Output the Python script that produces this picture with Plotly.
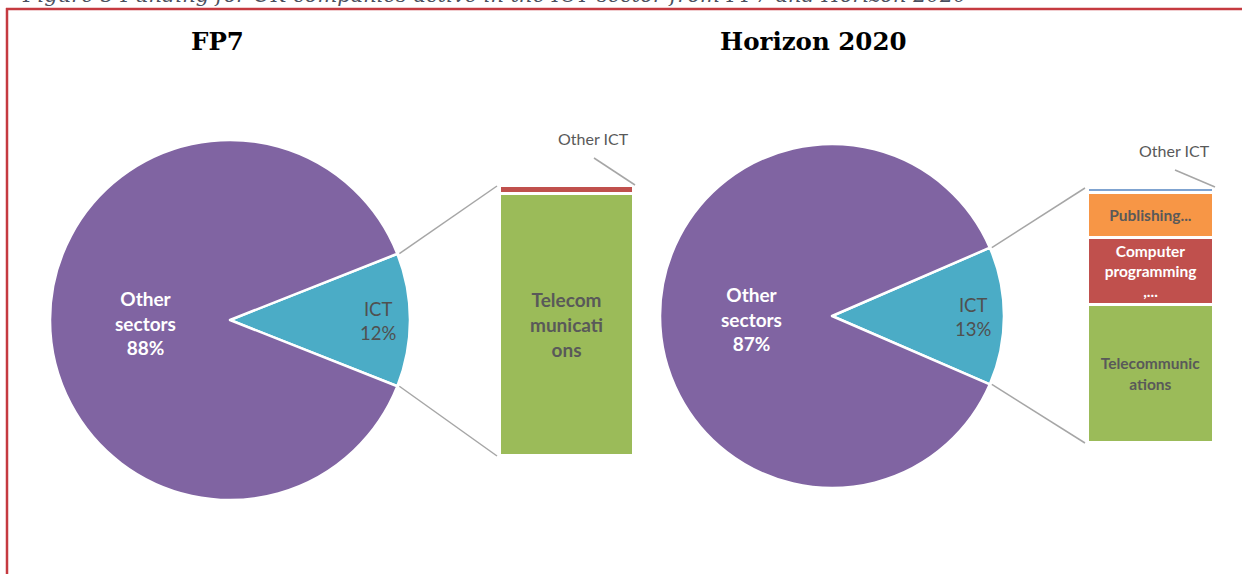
import math
import plotly.graph_objects as go

W, H = 1242, 574

# ---------------- data ----------------
pie_labels = ["ICT", "Other sectors"]
fp7_pie_values = [12, 88]
h2020_pie_values = [13, 87]

fp7_ict_labels = ["Telecommunications", "Other ICT"]
fp7_ict_values = [97, 3]
fp7_ict_text = ["Telecom<br>municati<br>ons", ""]

h2020_ict_labels = ["Telecommunications", "Computer programming,...", "Publishing...", "Other ICT"]
h2020_ict_values = [54, 26.5, 17.5, 2]
h2020_ict_text = ["Telecommunic<br>ations", "Computer<br>programming<br>,...", "Publishing...", ""]

titles = ["FP7", "Horizon 2020"]
caption = "Figure 5 Funding for UK companies active in the ICT sector from FP7 and Horizon 2020"

# ---------------- style ----------------
PURPLE = "#8064A2"
TEAL = "#4BACC6"
GREEN = "#9BBB59"
RED = "#C0504D"
ORANGE = "#F79646"
LIGHTBLUE = "#7FA3D0"
GREY_TXT = "#595959"
LINE_GREY = "#A6A6A6"
FRAME = "#C53A40"
FONT = "Lato"

fp7_bar_colors = [GREEN, RED]
h2020_bar_colors = [GREEN, RED, ORANGE, LIGHTBLUE]
fp7_bar_text_colors = [GREY_TXT, GREY_TXT]
h2020_bar_text_colors = [GREY_TXT, "white", GREY_TXT, GREY_TXT]


def px(x):
    return x / W


def py(y):
    return 1 - y / H


# layout in pixels
pies = [
    dict(cx=230, cy=320, r=180, values=fp7_pie_values),
    dict(cx=832, cy=316, r=172, values=h2020_pie_values),
]
bars = [
    dict(x0=500, x1=634, y0=186, y1=456),
    dict(x0=1088, x1=1214, y0=188, y1=443),
]

fig = go.Figure()

for p in pies:
    share = p["values"][0] / sum(p["values"])
    half = share * 180.0
    fig.add_trace(go.Pie(
        labels=pie_labels, values=p["values"], sort=False,
        direction="clockwise", rotation=90 - half,
        marker=dict(colors=[TEAL, PURPLE], line=dict(color="white", width=2.5)),
        textinfo="none", hoverinfo="label+percent",
        domain=dict(x=[px(p["cx"] - p["r"]), px(p["cx"] + p["r"])],
                    y=[py(p["cy"] + p["r"]), py(p["cy"] - p["r"])]),
        showlegend=False,
    ))

# stacked bars (pie-of-bar)
bar_sets = [
    (fp7_ict_labels, fp7_ict_values, fp7_ict_text, fp7_bar_colors, fp7_bar_text_colors, 19, "x", "y", "FP7"),
    (h2020_ict_labels, h2020_ict_values, h2020_ict_text, h2020_bar_colors, h2020_bar_text_colors, 15.5, "x2", "y2", "H2020"),
]
for labels, vals, texts, cols, tcols, fs, xa, ya, cat in bar_sets:
    for lab, v, t, c, tc in zip(labels, vals, texts, cols, tcols):
        fig.add_trace(go.Bar(
            x=[cat], y=[v], name=lab, text=[t], textposition="inside",
            insidetextanchor="middle", textangle=0, constraintext="none",
            texttemplate="%{text}",
            textfont=dict(family=FONT, size=fs, color=tc, weight="bold"),
            marker=dict(color=c, line=dict(color="white", width=3)),
            xaxis=xa, yaxis=ya, showlegend=False, hoverinfo="name+y",
        ))

axis_common = dict(visible=False, fixedrange=True)
fig.update_layout(
    width=W, height=H,
    margin=dict(l=0, r=0, t=0, b=0),
    paper_bgcolor="white", plot_bgcolor="rgba(0,0,0,0)",
    barmode="stack", bargap=0,
    xaxis=dict(domain=[px(bars[0]["x0"]), px(bars[0]["x1"])], range=[-0.5, 0.5], **axis_common),
    yaxis=dict(domain=[py(bars[0]["y1"]), py(bars[0]["y0"])], range=[0, 100], **axis_common),
    xaxis2=dict(domain=[px(bars[1]["x0"]), px(bars[1]["x1"])], range=[-0.5, 0.5], anchor="y2", **axis_common),
    yaxis2=dict(domain=[py(bars[1]["y1"]), py(bars[1]["y0"])], range=[0, 100], anchor="x2", **axis_common),
)

shapes = []
annotations = []


def ann(x, y, text, font, xanchor="center", yanchor="middle", align="center"):
    annotations.append(dict(x=px(x), y=py(y), xref="paper", yref="paper",
                            xanchor=xanchor, yanchor=yanchor, align=align,
                            text=text, showarrow=False, font=font))


# connector lines from pie slice edges to bar corners
for p, b in zip(pies, bars):
    share = p["values"][0] / sum(p["values"])
    half = math.radians(share * 180.0)
    ex = p["cx"] + p["r"] * math.cos(half)
    ey_top = p["cy"] - p["r"] * math.sin(half)
    ey_bot = p["cy"] + p["r"] * math.sin(half)
    for ey, by in [(ey_top, b["y0"]), (ey_bot, b["y1"])]:
        shapes.append(dict(type="line", xref="paper", yref="paper",
                           x0=px(ex + 2), y0=py(ey), x1=px(b["x0"] - 3), y1=py(by),
                           line=dict(color=LINE_GREY, width=1.5)))

# pie labels
for p in pies:
    vals = p["values"]
    r = p["r"]
    ann(p["cx"] - 0.47 * r, p["cy"] + 3, f"<b>Other<br>sectors<br>{vals[1]}%</b>",
        dict(family=FONT, size=19, color="white"))
    ann(p["cx"] + 0.82 * r, p["cy"] + 1, f"ICT<br>{vals[0]}%",
        dict(family=FONT, size=18.5, color="#505050"))

# "Other ICT" labels with leader lines
for b, (lx, ly) in zip(bars, [(593, 138), (1174, 150)]):
    ann(lx, ly, "Other ICT", dict(family=FONT, size=16, color=GREY_TXT))
    shapes.append(dict(type="line", xref="paper", yref="paper",
                       x0=px(lx + 1), y0=py(ly + 20), x1=px(b["x1"] + 1), y1=py(b["y0"] - 1),
                       line=dict(color=LINE_GREY, width=1.5)))

# titles
for t, tx in zip(titles, [217, 813]):
    ann(tx, 42, f"<b>{t}</b>", dict(family="DejaVu Serif", size=24.5, color="black"))

# cropped caption at the very top
ann(20, -5, caption, dict(family="DejaVu Serif", size=21, color="#4A4F5E", style="italic"),
    xanchor="left", align="left")

# red frame
shapes.append(dict(type="line", xref="paper", yref="paper",
                   x0=px(6), y0=py(9), x1=1, y1=py(9), line=dict(color=FRAME, width=2.5)))
shapes.append(dict(type="line", xref="paper", yref="paper",
                   x0=px(7), y0=py(8), x1=px(7), y1=0, line=dict(color=FRAME, width=2.5)))

fig.update_layout(shapes=shapes, annotations=annotations)
fig.write_html("out.html", config={"displayModeBar": False},
               post_script="document.body.style.margin='0';document.body.style.overflow='hidden';")
